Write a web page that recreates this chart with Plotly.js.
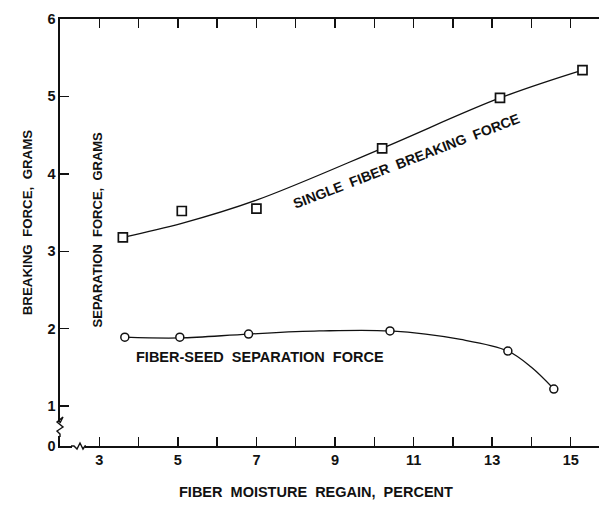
<!DOCTYPE html>
<html>
<head>
<meta charset="utf-8">
<script src="https://cdn.plot.ly/plotly-3.0.1.min.js"></script>
<style>html,body{margin:0;padding:0;background:#fff;}#chart{width:599px;height:506px;}</style>
</head>
<body>
<div id="chart"></div>
<script>
// ---- data ----
const moistureBreak = [3.6, 5.1, 7.0, 10.2, 13.2, 15.3];
const breakingForce = [3.18, 3.52, 3.55, 4.33, 4.98, 5.34];
const moistureSep = [3.65, 5.05, 6.8, 10.4, 13.4, 14.57];
const separationForce = [1.89, 1.89, 1.93, 1.97, 1.71, 1.22];
// hand-drawn fitted curves
const breakCurveX = [3.6, 5.1, 7.0, 10.2, 13.2, 15.3];
const breakCurveY = [3.18, 3.36, 3.66, 4.33, 4.98, 5.34];
const sepCurveX = [3.65, 5.05, 6.8, 8.6, 10.4, 12.2, 13.4, 14.0, 14.57];
const sepCurveY = [1.89, 1.88, 1.93, 1.97, 1.97, 1.86, 1.71, 1.50, 1.22];
// ticks
const xTickVals = [3, 4, 5, 6, 7, 8, 9, 10, 11, 12, 13, 14, 15];
const xTickText = ['3', '', '5', '', '7', '', '9', '', '11', '', '13', '', '15'];
const Y_BREAK = 0.484; // bottom of broken y axis, labelled 0
const yTickVals = [Y_BREAK, 1, 2, 3, 4, 5, 6];
const yTickText = ['0', '1', '2', '3', '4', '5', '6'];
const X_RANGE = [2, 15.72];
const Y_RANGE = [Y_BREAK, 6.0];

const font = 'Liberation Sans, Arial, sans-serif';
const ink = '#111';
const sp = '\u00a0\u00a0';
const b = s => '<b>' + s + '</b>';

const traces = [
  {x: breakCurveX, y: breakCurveY, mode: 'lines', line: {color: ink, width: 1.3, shape: 'spline', smoothing: 1}, hoverinfo: 'skip'},
  {x: sepCurveX, y: sepCurveY, mode: 'lines', line: {color: ink, width: 1.3, shape: 'spline', smoothing: 1}, hoverinfo: 'skip'},
  {x: moistureBreak, y: breakingForce, mode: 'markers', marker: {symbol: 'square', size: 9, color: '#fff', line: {color: ink, width: 1.7}}},
  {x: moistureSep, y: separationForce, mode: 'markers', marker: {symbol: 'circle', size: 8, color: '#fff', line: {color: ink, width: 1.5}}}
];

// squiggle break marks in paper coordinates
const W = 539, H = 427;
function px(dx) { return dx / W; }
function py(dy) { return dy / H; }
const yb0 = py(446 - 437), yb1 = py(446 - 421);
const ySquig = `M0,${yb0} L0,${yb0 + py(3)} L${px(-3)},${yb0 + py(6)} L${px(3)},${yb0 + py(10)} L${px(-3)},${yb0 + py(15)} L${px(3)},${yb0 + py(20)} L0,${yb1 - py(2)} L0,${yb1}`;
const xb0 = px(71 - 60), xb1 = px(86 - 60);
const xSquig = `M${xb0},0 L${xb0 + px(3)},0 L${xb0 + px(6)},${py(-3)} L${xb0 + px(9)},${py(3)} L${xb0 + px(12)},${py(-3)} L${xb1 - px(1)},0 L${xb1},0`;

const layout = {
  width: 599, height: 506,
  margin: {l: 60, r: 0, t: 19, b: 60},
  paper_bgcolor: '#fff', plot_bgcolor: '#fff',
  showlegend: false,
  font: {family: font, color: ink, size: 14},
  xaxis: {
    range: X_RANGE, tickvals: xTickVals, ticktext: xTickText.map(t => t ? b(t) : t),
    ticks: 'inside', ticklen: 9, tickwidth: 1.4, tickcolor: ink,
    showline: true, linecolor: ink, linewidth: 1.6, mirror: 'ticks',
    showgrid: false, zeroline: false,
    tickfont: {family: font, size: 14.5, color: ink}
  },
  yaxis: {
    range: Y_RANGE, tickvals: yTickVals, ticktext: yTickText.map(b),
    ticks: 'inside', ticklen: 9, tickwidth: 1.4, tickcolor: ink,
    showline: true, linecolor: ink, linewidth: 1.6, mirror: false,
    showgrid: false, zeroline: false,
    tickfont: {family: font, size: 14.5, color: ink}
  },
  shapes: [
    {type: 'line', xref: 'paper', yref: 'paper', x0: 0, x1: 0, y0: yb0 + py(1), y1: yb1 - py(1), line: {color: '#fff', width: 4}, layer: 'above'},
    {type: 'path', xref: 'paper', yref: 'paper', path: ySquig, line: {color: ink, width: 1.4}, layer: 'above'},
    {type: 'line', xref: 'paper', yref: 'paper', x0: xb0 + px(1), x1: xb1 - px(1), y0: 0, y1: 0, line: {color: '#fff', width: 4}, layer: 'above'},
    {type: 'path', xref: 'paper', yref: 'paper', path: xSquig, line: {color: ink, width: 1.4}, layer: 'above'}
  ],
  annotations: [
    {text: b('SINGLE' + sp + 'FIBER' + sp + 'BREAKING' + sp + 'FORCE'), x: 10.81, y: 4.16, xref: 'x', yref: 'y', showarrow: false, textangle: -21, font: {family: font, size: 14, color: ink}},
    {text: b('FIBER-SEED' + sp + 'SEPARATION' + sp + 'FORCE'), x: 7.09, y: 1.63, xref: 'x', yref: 'y', showarrow: false, font: {family: font, size: 14.5, color: ink}},
    {text: b('FIBER' + sp + 'MOISTURE' + sp + 'REGAIN,' + sp + 'PERCENT'), x: 0.475, y: -0.13, xref: 'paper', yref: 'paper', showarrow: false, font: {family: font, size: 14.5, color: ink}},
    {text: b('BREAKING' + sp + 'FORCE,' + sp + 'GRAMS'), x: -0.078, y: 0.525, xref: 'paper', yref: 'paper', showarrow: false, textangle: -90, font: {family: font, size: 13.3, color: ink}},
    {text: b('SEPARATION' + sp + 'FORCE,' + sp + 'GRAMS'), x: 0.052, y: 0.506, xref: 'paper', yref: 'paper', showarrow: false, textangle: -90, font: {family: font, size: 13, color: ink}}
  ]
};

Plotly.newPlot('chart', traces, layout, {staticPlot: true, displayModeBar: false});
</script>
</body>
</html>
